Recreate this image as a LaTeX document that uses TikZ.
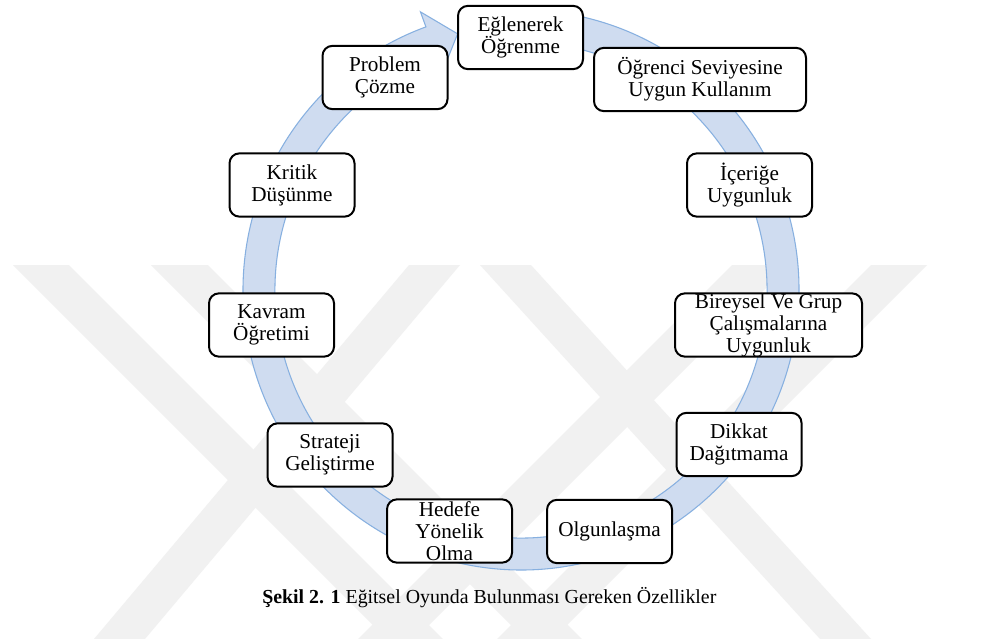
\documentclass[tikz,border=0pt]{standalone}
\usepackage{fontspec}
\setmainfont{Liberation Serif}
\definecolor{ringfill}{RGB}{207,220,240}
\definecolor{ringline}{RGB}{135,176,224}
\definecolor{wmark}{RGB}{241,241,241}
\begin{document}
\begin{tikzpicture}[x=0.75pt,y=-0.75pt,
  box/.style={draw=black, line width=1.5pt, rounded corners=7.5pt, fill=white,
    align=center, inner sep=0pt, minimum width=93.75pt, minimum height=47.5pt,
    font=\fontsize{15.9}{16.5}\selectfont},
  ring/.style={fill=ringfill, draw=ringline, line width=0.8pt},
  wm/.style={fill=wmark}
]
\useasboundingbox (0,0) rectangle (986,639);
\fill[white] (0,0) rectangle (986,639);

% faint background watermark stripes
\fill[wm] (13,265) -- (69,265) -- (443,639) -- (387,639) -- cycle;
\fill[wm] (151,265) -- (208,265) -- (582,639) -- (525,639) -- cycle;
\fill[wm] (409,265) -- (460,265) -- (145,639) -- (94,639) -- cycle;
\fill[wm] (871,265) -- (927,265) -- (553,639) -- (497,639) -- cycle;
\fill[wm] (732,265) -- (789,265) -- (415,639) -- (358,639) -- cycle;
\fill[wm] (480,265) -- (531,265) -- (871,639) -- (820,639) -- cycle;

% circular arrow
\path[ring]
 ({521+278*cos(-85)},{290+280*sin(-85)})
 arc[start angle=-85, end angle=250, x radius=278, y radius=280]
 -- ({521+294*cos(250)},{290+296*sin(250)})
 -- ({521+262*cos(256)},{290+264*sin(256)})
 -- ({521+230*cos(250)},{290+232*sin(250)})
 -- ({521+246*cos(250)},{290+248*sin(250)})
 arc[start angle=250, end angle=-85, x radius=246, y radius=248]
 -- cycle;

% boxes
\node[box] (egl) at (520.5,37.5) {Eğlenerek\\Öğrenme};
\node[box, minimum width=159pt] (ogr) at (700,79.5) {Öğrenci Seviyesine\\Uygun Kullanım};
\node[box] (ice) at (749.5,185) {İçeriğe\\Uygunluk};
\node[box, minimum width=140.25pt] (bir) at (768.5,325) {Bireysel Ve Grup\\Çalışmalarına\\Uygunluk};
\node[box] (dik) at (739,444.5) {Dikkat\\Dağıtmama};
\node[box] (olg) at (609.5,531.5) {Olgunlaşma};
\node[box] (hed) at (449.5,531) {Hedefe\\Yönelik\\Olma};
\node[box] (str) at (330,455) {Strateji\\Geliştirme};
\node[box] (kav) at (271.5,325) {Kavram\\Öğretimi};
\node[box] (kri) at (292,185) {Kritik\\Düşünme};
\node[box] (pro) at (385,77.5) {Problem\\Çözme};

% caption
\node[anchor=base west, inner sep=0pt, font=\fontsize{14.9}{18}\selectfont] (cap) at (262,603)
  {\textbf{Şekil 2. 1} Eğitsel Oyunda Bulunması Gereken Özellikler};
\end{tikzpicture}
\end{document}
